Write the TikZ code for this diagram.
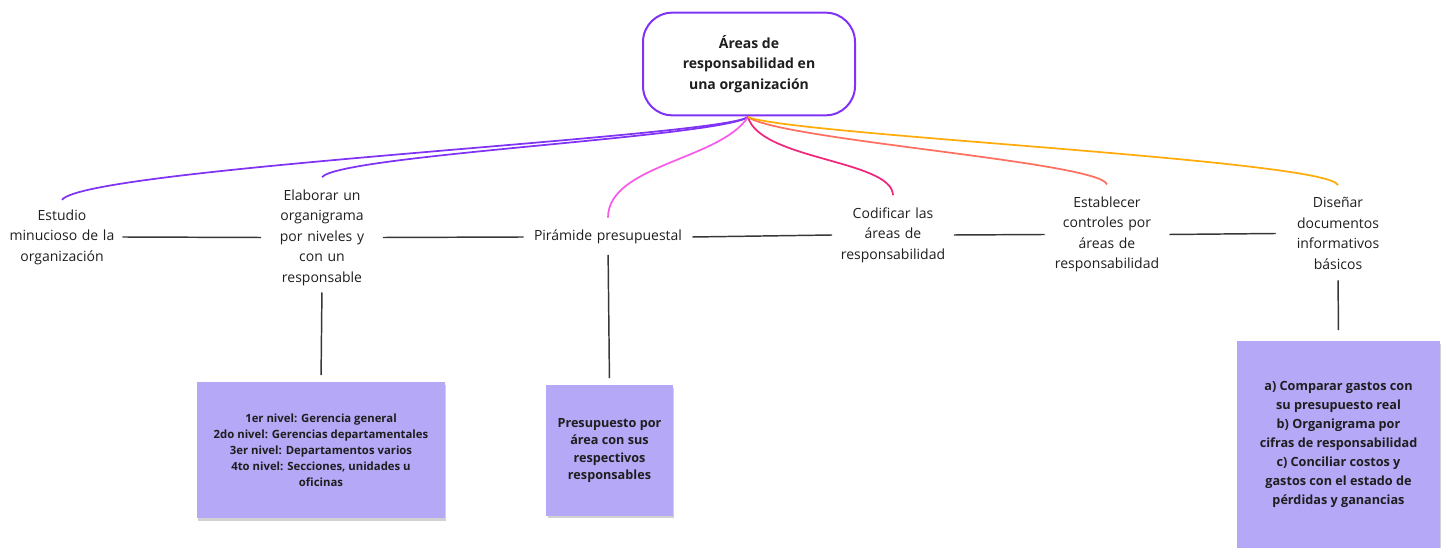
\documentclass[tikz,border=0pt]{standalone}
\usepackage{fontspec}
\setmainfont{Open Sans}
\usetikzlibrary{shadows}
\definecolor{cPurple}{RGB}{128,50,245}
\definecolor{cPink}{RGB}{246,92,232}
\definecolor{cCrimson}{RGB}{240,38,122}
\definecolor{cCoral}{RGB}{255,112,96}
\definecolor{cOrange}{RGB}{255,172,10}
\definecolor{cBox}{RGB}{181,168,246}
\definecolor{cText}{RGB}{30,30,30}
\definecolor{cLine}{RGB}{55,55,55}
\tikzset{
  lbl/.style={inner sep=0pt, align=center, text=cText, font=\fontsize{10.5}{15.4}\selectfont},
  note/.style={fill=cBox, inner sep=0pt, align=center, text=cText,
    drop shadow={shadow xshift=1pt, shadow yshift=-2pt, opacity=0.18, fill=black}},
  link/.style={draw=cLine, line width=1.1pt},
  branch/.style={line width=1.3pt},
}
\begin{document}
\begin{tikzpicture}[x=0.75pt,y=-0.75pt]
\useasboundingbox (0,0) rectangle (1442,548);
% central node
\node[draw=cPurple, line width=1.5pt, rounded corners=22pt, minimum width=159pt, minimum height=77pt,
  align=center, text=cText, font=\bfseries\fontsize{10.5}{15.5}\selectfont] (root) at (749,64)
  {Áreas de\\responsabilidad en\\una organización};
\coordinate (hub) at (748,117);
% labels
\node[lbl, text width=90pt] (estudio) at (62,237) {Estudio\\minucioso de la\\organización};
\node[lbl, text width=91pt] (elab) at (322,237.5) {Elaborar un\\organigrama\\por niveles y\\con un\\responsable};
\node[lbl, text width=126pt] (piram) at (608,237) {Pirámide presupuestal};
\node[lbl, text width=91pt] (codif) at (893,235) {Codificar las\\áreas de\\responsabilidad};
\node[lbl, text width=93pt] (estab) at (1107,234.5) {Establecer\\controles por\\áreas de\\responsabilidad};
\node[lbl, text width=93pt] (disen) at (1338,233.5) {Diseñar\\documentos\\informativos\\básicos};
% notes
\node[note, minimum width=186pt, minimum height=102pt, font=\bfseries\fontsize{8.5}{12}\selectfont] (n1) at (321,450)
  {1er nivel: Gerencia general\\2do nivel: Gerencias departamentales\\3er nivel: Departamentos varios\\4to nivel: Secciones, unidades u\\oficinas};
\node[note, minimum width=95pt, minimum height=98pt, font=\bfseries\fontsize{9.5}{13.1}\selectfont] (n2) at (609.5,450.5)
  {Presupuesto por\\área con sus\\respectivos\\responsables};
\node[note, minimum width=152pt, minimum height=155pt, font=\bfseries\fontsize{9.5}{14.3}\selectfont] (n3) at (1338.5,444.5)
  {a) Comparar gastos con\\su presupuesto real\\b) Organigrama por\\cifras de responsabilidad\\c) Conciliar costos y\\gastos con el estado de\\pérdidas y ganancias};
% horizontal links
\draw[link] (estudio.east) -- (elab.west);
\draw[link] (elab.east) -- (piram.west);
\draw[link] (piram.east) -- (codif.west);
\draw[link] (codif.east) -- (estab.west);
\draw[link] (estab.east) -- (disen.west);
% vertical links
\draw[link, shorten <=5pt, shorten >=5pt] (elab.south) -- (n1.north);
\draw[link, shorten <=8pt, shorten >=5pt] (piram.south) -- (n2.north);
\draw[link, shorten <=8pt, shorten >=8pt] (disen.south) -- (n3.north);
% branches
\draw[branch, cPurple] (hub) .. controls (720,137) and (85,168) .. ([yshift=7pt]estudio.north);
\draw[branch, cPurple] (hub) .. controls (720,137) and (340,155) .. ([yshift=9pt]elab.north);
\draw[branch, cPink] (hub) .. controls (720,160) and (608,165) .. ([yshift=9pt]piram.north);
\draw[branch, cCrimson] (hub) .. controls (760,160) and (892,160) .. ([yshift=9pt]codif.north);
\draw[branch, cCoral] (hub) .. controls (780,140) and (1100,162) .. ([yshift=9pt]estab.north);
\draw[branch, cOrange] (hub) .. controls (790,135) and (1330,160) .. ([yshift=9pt]disen.north);
\end{tikzpicture}
\end{document}
